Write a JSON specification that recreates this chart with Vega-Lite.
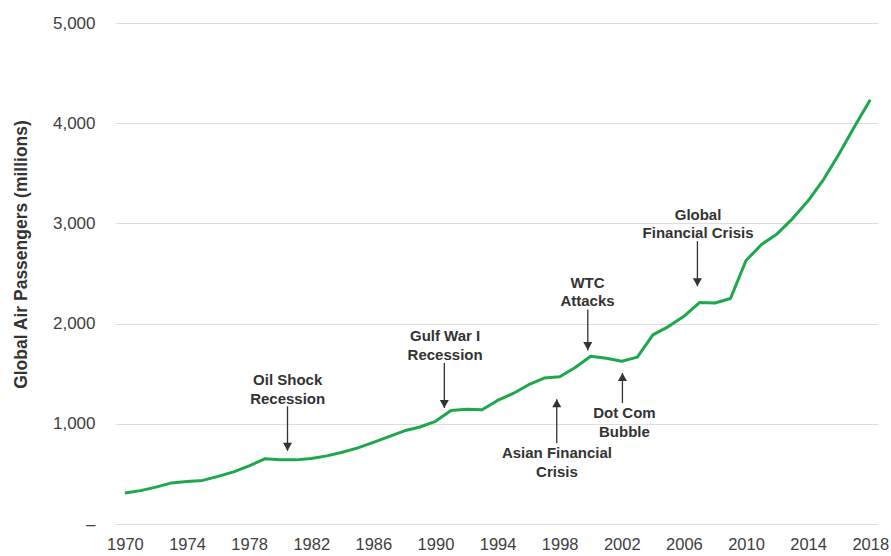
{
  "$schema": "https://vega.github.io/schema/vega-lite/v6.json",
  "width": 763,
  "height": 501,
  "autosize": {"type": "none"},
  "padding": {"left": 115, "top": 23, "right": 13, "bottom": 32},
  "background": "white",
  "config": {"font": "Liberation Sans", "view": {"stroke": null}},
  "datasets": {
    "traffic": [
      {"year": 1970, "passengers": 310}, {"year": 1971, "passengers": 333}, {"year": 1972, "passengers": 368},
      {"year": 1973, "passengers": 410}, {"year": 1974, "passengers": 425}, {"year": 1975, "passengers": 435},
      {"year": 1976, "passengers": 475}, {"year": 1977, "passengers": 520}, {"year": 1978, "passengers": 580},
      {"year": 1979, "passengers": 650}, {"year": 1980, "passengers": 642}, {"year": 1981, "passengers": 640},
      {"year": 1982, "passengers": 654}, {"year": 1983, "passengers": 680}, {"year": 1984, "passengers": 716},
      {"year": 1985, "passengers": 760}, {"year": 1986, "passengers": 815}, {"year": 1987, "passengers": 872},
      {"year": 1988, "passengers": 930}, {"year": 1989, "passengers": 968}, {"year": 1990, "passengers": 1025},
      {"year": 1991, "passengers": 1133}, {"year": 1992, "passengers": 1146}, {"year": 1993, "passengers": 1140},
      {"year": 1994, "passengers": 1233}, {"year": 1995, "passengers": 1303}, {"year": 1996, "passengers": 1390},
      {"year": 1997, "passengers": 1457}, {"year": 1998, "passengers": 1470}, {"year": 1999, "passengers": 1562},
      {"year": 2000, "passengers": 1675}, {"year": 2001, "passengers": 1655}, {"year": 2002, "passengers": 1625},
      {"year": 2003, "passengers": 1665}, {"year": 2004, "passengers": 1888}, {"year": 2005, "passengers": 1970},
      {"year": 2006, "passengers": 2073}, {"year": 2007, "passengers": 2210}, {"year": 2008, "passengers": 2205},
      {"year": 2009, "passengers": 2250}, {"year": 2010, "passengers": 2630}, {"year": 2011, "passengers": 2790},
      {"year": 2012, "passengers": 2895}, {"year": 2013, "passengers": 3048}, {"year": 2014, "passengers": 3225},
      {"year": 2015, "passengers": 3440}, {"year": 2016, "passengers": 3695}, {"year": 2017, "passengers": 3970},
      {"year": 2018, "passengers": 4233}
    ],
    "labels": [
      {"tx": 1980.48, "ty": 1433, "label": "Oil Shock"},
      {"tx": 1980.48, "ty": 1247, "label": "Recession"},
      {"tx": 1990.62, "ty": 1873, "label": "Gulf War I"},
      {"tx": 1990.62, "ty": 1683, "label": "Recession"},
      {"tx": 1997.82, "ty": 707, "label": "Asian Financial"},
      {"tx": 1997.82, "ty": 523, "label": "Crisis"},
      {"tx": 1999.79, "ty": 2407, "label": "WTC"},
      {"tx": 1999.79, "ty": 2223, "label": "Attacks"},
      {"tx": 2002.17, "ty": 1107, "label": "Dot Com"},
      {"tx": 2002.17, "ty": 917, "label": "Bubble"},
      {"tx": 2006.91, "ty": 3080, "label": "Global"},
      {"tx": 2006.91, "ty": 2907, "label": "Financial Crisis"}
    ],
    "arrows": [
      {"ax": 1980.47, "tail": 1175, "tip": 730, "dir": "down"},
      {"ax": 1990.57, "tail": 1607, "tip": 1157, "dir": "down"},
      {"ax": 1997.81, "tail": 807, "tip": 1245, "dir": "up"},
      {"ax": 1999.81, "tail": 2140, "tip": 1735, "dir": "down"},
      {"ax": 2002.04, "tail": 1207, "tip": 1507, "dir": "up"},
      {"ax": 2006.87, "tail": 2823, "tip": 2373, "dir": "down"}
    ]
  },
  "layer": [
    {
      "data": {"name": "traffic"},
      "mark": {"type": "line", "color": "#1ea84e", "strokeWidth": 3, "strokeJoin": "round"},
      "encoding": {
        "x": {
          "field": "year", "type": "quantitative",
          "scale": {"domain": [1969.36, 2018.5], "nice": false, "zero": false},
          "axis": {
            "title": null,
            "values": [1970, 1974, 1978, 1982, 1986, 1990, 1994, 1998, 2002, 2006, 2010, 2014, 2018],
            "format": "d", "labelFontSize": 16.5, "labelColor": "#404040", "labelPadding": 12,
            "ticks": false, "domain": false, "grid": false, "labelFlush": false
          }
        },
        "y": {
          "field": "passengers", "type": "quantitative",
          "scale": {"domain": [0, 5000], "nice": false},
          "axis": {
            "title": "Global Air Passengers (millions)",
            "values": [0, 1000, 2000, 3000, 4000, 5000],
            "labelExpr": "datum.value == 0 ? '–' : format(datum.value, ',')",
            "labelFontSize": 17, "labelColor": "#404040", "labelPadding": 20,
            "ticks": false, "domain": false, "grid": true, "gridColor": "#dedede", "gridWidth": 1,
            "titleFontSize": 17.5, "titleFontWeight": "bold", "titleColor": "#333333",
            "titleX": -94, "titleY": 231, "titleAlign": "center", "titleBaseline": "middle", "titleAngle": -90
          }
        }
      }
    },
    {
      "data": {"name": "arrows"},
      "mark": {"type": "rule", "color": "#333333", "strokeWidth": 1.3},
      "encoding": {
        "x": {"field": "ax", "type": "quantitative"},
        "y": {"field": "tail", "type": "quantitative"},
        "y2": {"field": "tip"}
      }
    },
    {
      "data": {"name": "arrows"},
      "mark": {"type": "point", "filled": true, "color": "#333333", "opacity": 1, "size": 81, "strokeWidth": 0},
      "encoding": {
        "x": {"field": "ax", "type": "quantitative"},
        "y": {"field": "tip", "type": "quantitative"},
        "shape": {
          "field": "dir", "type": "nominal", "legend": null,
          "scale": {"domain": ["down", "up"], "range": ["M0,0L-1,-1.8L1,-1.8Z", "M0,0L-1,1.8L1,1.8Z"]}
        }
      }
    },
    {
      "data": {"name": "labels"},
      "mark": {"type": "text", "fontSize": 15, "fontWeight": "bold", "color": "#333333", "align": "center", "baseline": "middle"},
      "encoding": {
        "x": {"field": "tx", "type": "quantitative"},
        "y": {"field": "ty", "type": "quantitative"},
        "text": {"field": "label"}
      }
    }
  ]
}
